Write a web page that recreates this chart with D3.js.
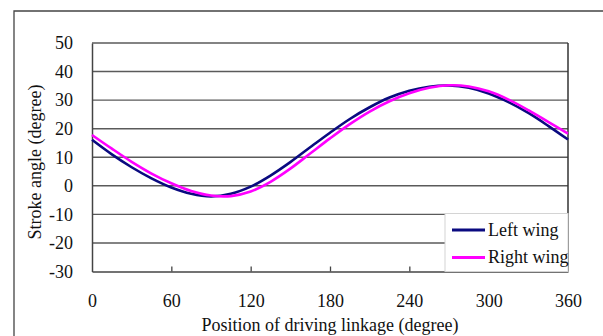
<!DOCTYPE html>
<html>
<head>
<meta charset="utf-8">
<script src="https://cdn.jsdelivr.net/npm/d3@7"></script>
<style>
html, body {
  margin: 0;
  padding: 0;
  background: #fff;
  overflow: hidden;
}
text {
  font-family: "Liberation Serif", "Times New Roman", serif;
  fill: #111;
}
</style>
</head>
<body>
<script>

// values, every 15 degrees
var angles = [0, 15, 30, 45, 60, 75, 90, 105, 120, 135, 150, 165, 180,
              195, 210, 225, 240, 255, 270, 285, 300, 315, 330, 345, 360];
var leftWing = [16.1, 11.0, 6.5, 2.6, -0.6, -2.8, -3.7, -2.8, -0.3, 3.6, 8.3, 13.5, 18.6,
                23.4, 27.5, 30.9, 33.3, 34.7, 35.1, 34.3, 32.3, 29.3, 25.5, 21.0, 16.2];
var rightWing = [17.8, 13.0, 8.4, 4.3, 0.9, -1.8, -3.4, -3.6, -2.0, 1.4, 6.0, 11.3, 16.6,
                 21.6, 26.0, 29.6, 32.4, 34.3, 35.2, 34.8, 33.1, 30.2, 26.5, 22.4, 18.3];
var seriesNames = ['Left wing', 'Right wing'];
var xTicks = [0, 60, 120, 180, 240, 300, 360];
var yTicks = [-30, -20, -10, 0, 10, 20, 30, 40, 50];

var W = 603, H = 336;
var plot = {left: 92, top: 43, right: 568, bottom: 271.5};
var colors = ['#0a0a80', '#ff00ff'];

var svg = d3.select('body').append('svg')
  .attr('width', W)
  .attr('height', H);

// outer frame (runs off the right and bottom edge)
svg.append('path')
  .attr('d', 'M14,' + (H + 5) + 'V11H' + (W + 5))
  .attr('fill', 'none')
  .attr('stroke', '#444')
  .attr('stroke-width', 1.3);

var x = d3.scaleLinear().domain([0, 360]).range([plot.left, plot.right]);
var y = d3.scaleLinear().domain([-30, 50]).range([plot.bottom, plot.top]);

// gridlines
svg.append('g')
  .selectAll('line')
  .data(yTicks.filter(function(d){ return d > -30; }))
  .enter().append('line')
  .attr('x1', plot.left).attr('x2', plot.right)
  .attr('y1', function(d){ return y(d); })
  .attr('y2', function(d){ return y(d); })
  .attr('stroke', '#5a5a5a')
  .attr('stroke-width', 1.4);

var plain = function(d){ return String(d); };  // hyphen minus, like the original

// y axis
var yAxis = svg.append('g')
  .attr('transform', 'translate(' + plot.left + ',0)')
  .call(d3.axisLeft(y).tickValues(yTicks).tickFormat(plain).tickSize(0).tickPadding(19));
yAxis.select('.domain').attr('stroke', '#444').attr('stroke-width', 1.5);
yAxis.selectAll('text').style('font-size', '18px').attr('fill', '#111');

// x axis, ticks pointing inward
var xAxis = svg.append('g')
  .attr('transform', 'translate(0,' + plot.bottom + ')')
  .call(d3.axisBottom(x).tickValues(xTicks).tickFormat(plain).tickSize(0).tickPadding(23));
xAxis.select('.domain').attr('stroke', '#444').attr('stroke-width', 1.5);
xAxis.selectAll('text').style('font-size', '18px').attr('fill', '#111');
xAxis.selectAll('.tick')
  .filter(function(d){ return d > 0 && d < 360; })
  .append('line')
  .attr('y1', 0).attr('y2', -5)
  .attr('stroke', '#444').attr('stroke-width', 1.3);

// right side of the plot
svg.append('line')
  .attr('x1', plot.right).attr('x2', plot.right)
  .attr('y1', plot.top).attr('y2', plot.bottom)
  .attr('stroke', '#333').attr('stroke-width', 1.5);

// curves
var line = d3.line()
  .x(function(d){ return x(d[0]); })
  .y(function(d){ return y(d[1]); })
  .curve(d3.curveCatmullRom);

[leftWing, rightWing].forEach(function(vals, i) {
  svg.append('path')
    .datum(angles.map(function(a, j){ return [a, vals[j]]; }))
    .attr('d', line)
    .attr('fill', 'none')
    .attr('stroke', colors[i])
    .attr('stroke-width', 2.6);
});

// axis titles
svg.append('text')
  .attr('transform', 'translate(41,162) rotate(-90)')
  .attr('text-anchor', 'middle')
  .style('font-size', '18px')
  .text('Stroke angle (degree)');

svg.append('text')
  .attr('x', 330).attr('y', 331)
  .attr('text-anchor', 'middle')
  .style('font-size', '18px')
  .text('Position of driving linkage (degree)');

// legend
var lg = svg.append('g').attr('transform', 'translate(445,213.5)');
lg.append('rect')
  .attr('width', 123).attr('height', 58)
  .attr('fill', '#fff')
  .attr('stroke', '#d4d4d4').attr('stroke-width', 1);
seriesNames.forEach(function(name, i) {
  var ly = 16.5 + i * 27.5;
  lg.append('line')
    .attr('x1', 7).attr('x2', 40)
    .attr('y1', ly).attr('y2', ly)
    .attr('stroke', colors[i]).attr('stroke-width', 3);
  lg.append('text')
    .attr('x', 43).attr('y', ly + 5.5)
    .style('font-size', '18px')
    .text(name);
});

</script>
</body>
</html>
